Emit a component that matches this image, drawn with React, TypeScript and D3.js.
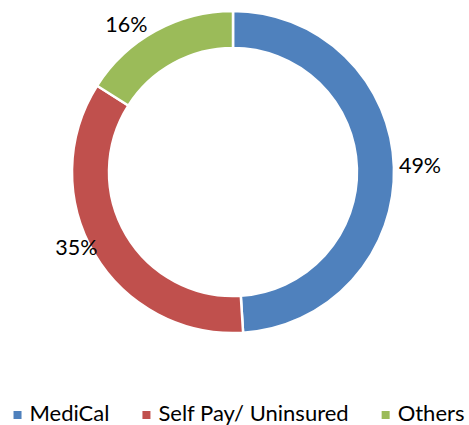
import React, { useEffect, useRef } from "react";
import * as d3 from "d3";

// payer mix shares (percent)
const CATEGORIES = ["MediCal", "Self Pay/ Uninsured", "Others"];
const VALUES = [49, 35, 16];
const COLORS = ["#4F81BD", "#C0504D", "#9BBB59"];

const WIDTH = 469;
const HEIGHT = 425;

export default function App() {
  const svgRef = useRef<SVGSVGElement>(null);

  useEffect(() => {
    const svg = d3.select(svgRef.current);
    svg.selectAll("*").remove();

    const cx = 233;
    const cy = 172;
    const outerR = 161;
    const innerR = 124;
    const font = "Lato, 'Open Sans', sans-serif";
    const fontSize = 21.5;

    const pie = d3.pie<number>().sort(null).value(d => d);
    const arcs = pie(VALUES);
    const arc = d3.arc<d3.PieArcDatum<number>>().innerRadius(innerR).outerRadius(outerR);

    const g = svg.append("g").attr("transform", `translate(${cx},${cy})`);

    g.selectAll("path")
      .data(arcs)
      .join("path")
      .attr("d", arc)
      .attr("fill", (_, i) => COLORS[i])
      .attr("stroke", "white")
      .attr("stroke-width", 2.5);

    // data labels just outside the ring (outside end)
    g.selectAll("text.lbl")
      .data(arcs)
      .join("text")
      .attr("class", "lbl")
      .each(function (d) {
        const a = (d.startAngle + d.endAngle) / 2;
        const px = Math.sin(a) * outerR;
        const py = -Math.cos(a) * outerR;
        const right = px > 1;
        const side = Math.abs(Math.cos(a)) < 0.2;
        d3.select(this)
          .attr("x", right ? px + 5 : px - 1 - 8 * Math.cos(a))
          .attr("y", side ? py + 6 : py + 1.5)
          .attr("text-anchor", right ? "start" : "end");
      })
      .attr("font-family", font)
      .attr("font-size", fontSize)
      .attr("fill", "#000")
      .text(d => `${d.data}%`);

    // legend
    const legend = svg.append("g").attr("transform", `translate(0,421)`);
    const items = legend.selectAll("g")
      .data(CATEGORIES)
      .join("g");
    items.append("rect")
      .attr("y", -10)
      .attr("width", 8)
      .attr("height", 8)
      .attr("fill", (_, i) => COLORS[i]);
    items.append("text")
      .attr("x", 16)
      .attr("font-family", font)
      .attr("font-size", 22)
      .attr("fill", "#000")
      .text(d => d);

    const gap = 33;
    const widths: number[] = [];
    items.each(function () {
      const t = d3.select(this).select("text").node() as SVGTextElement;
      widths.push(16 + t.getComputedTextLength());
    });
    const total = d3.sum(widths) + gap * (widths.length - 1);
    let x = WIDTH / 2 + 4.5 - total / 2;
    items.each(function (_, i) {
      d3.select(this).attr("transform", `translate(${x},0)`);
      x += widths[i] + gap;
    });
  }, []);

  return (
    <svg
      ref={svgRef}
      width={WIDTH}
      height={HEIGHT}
      style={{ position: "absolute", left: 0, top: 0, background: "#fff" }}
    />
  );
}
